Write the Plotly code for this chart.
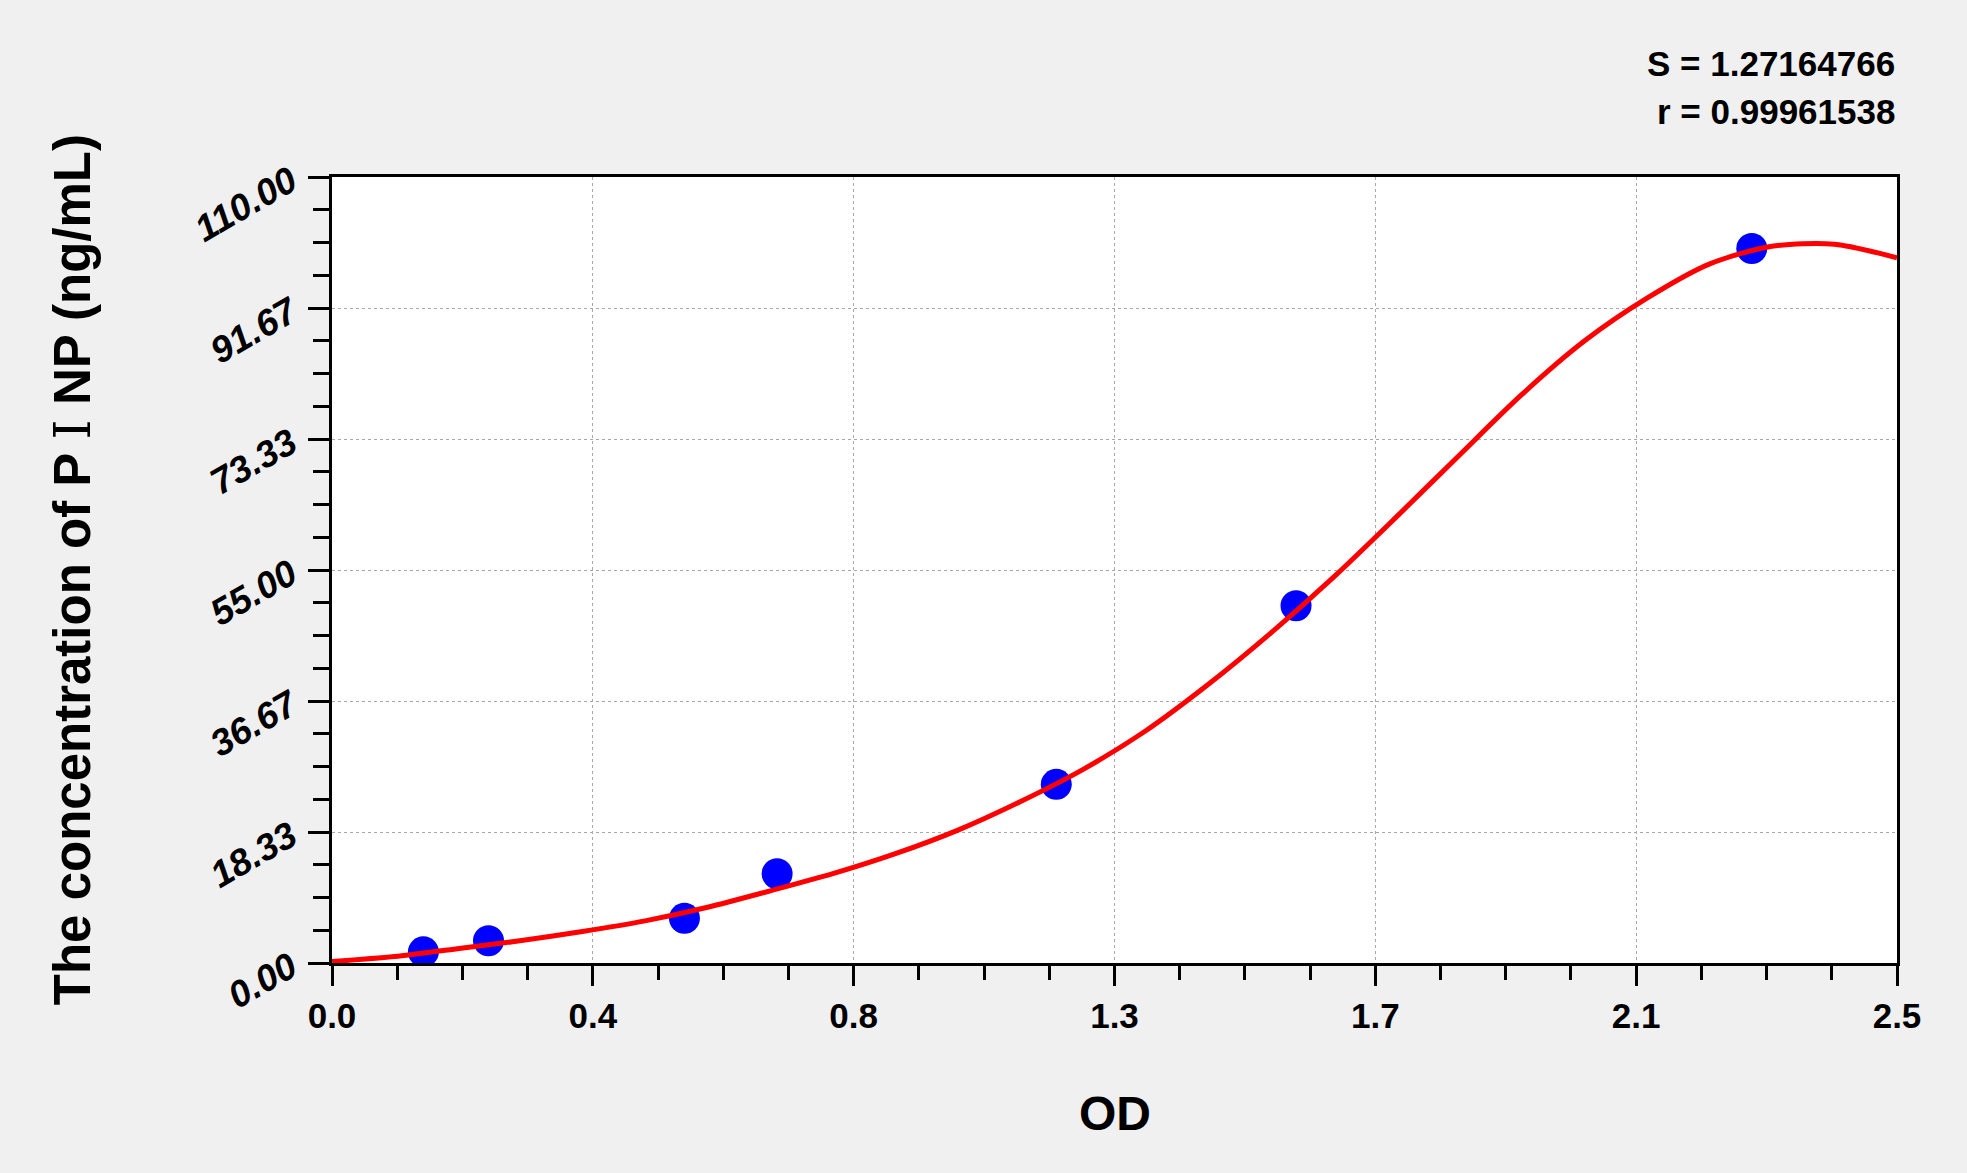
"""standard curve: concentration vs OD"""
import plotly.graph_objects as go

# standards
od = [0.146, 0.250, 0.563, 0.711, 1.157, 1.540, 2.268]
conc = [1.56, 3.12, 6.25, 12.5, 25.0, 50.0, 100.0]

# fitted curve, read every 0.1 OD
curve_od = [0.0, 0.1, 0.2, 0.3, 0.4, 0.5, 0.6, 0.7, 0.8, 0.9, 1.0, 1.1, 1.2,
            1.3, 1.4, 1.5, 1.6, 1.7, 1.8, 1.9, 2.0, 2.1, 2.2, 2.3, 2.4, 2.5]
curve_conc = [0.2, 0.9, 2.0, 3.1, 4.4, 5.9, 7.8, 10.1, 12.5, 15.3, 18.6, 22.6, 27.1,
              32.5, 39.0, 46.2, 54.0, 62.4, 71.0, 79.5, 87.0, 93.0, 97.8, 100.3, 100.6, 98.7]

x_tick_text = ["0.0", "0.4", "0.8", "1.3", "1.7", "2.1", "2.5"]
y_tick_text = ["0.00", "18.33", "36.67", "55.00", "73.33", "91.67", "110.00"]
x_max = 2.5
y_max = 110.0

stats = ["S = 1.27164766", "r = 0.99961538"]

FONT = "Liberation Sans, Arial, sans-serif"

n = len(x_tick_text) - 1
x_tick_vals = [x_max * i / n for i in range(n + 1)]
y_tick_vals = [y_max * i / n for i in range(n + 1)]

fig = go.Figure()
fig.add_trace(
    go.Scatter(
        x=od,
        y=conc,
        mode="markers",
        marker={"color": "#0000ff", "size": 31, "line": {"width": 0}},
        showlegend=False,
    )
)
fig.add_trace(
    go.Scatter(
        x=curve_od,
        y=curve_conc,
        mode="lines",
        line={"color": "#ff0000", "width": 5, "shape": "spline", "smoothing": 0.8},
        showlegend=False,
    )
)

axis_common = {
    "showline": True,
    "linecolor": "black",
    "linewidth": 3,
    "mirror": True,
    "ticks": "outside",
    "tickcolor": "black",
    "tickwidth": 3,
    "showgrid": True,
    "gridcolor": "#a8a8a8",
    "gridwidth": 1,
    "griddash": "dot",
    "zeroline": False,
    "tickmode": "array",
}

fig.update_layout(
    width=1967,
    height=1173,
    paper_bgcolor="#f0f0f0",
    plot_bgcolor="white",
    margin={"l": 332, "r": 70, "t": 177, "b": 210},
    font={"family": FONT, "color": "black"},
    xaxis={
        **axis_common,
        "range": [0, x_max],
        "tickvals": x_tick_vals,
        "ticktext": x_tick_text,
        "ticklen": 20,
        "tickfont": {"size": 35, "weight": "bold"},
        "ticklabelstandoff": 0,
        "minor": {"dtick": x_max / n / 4, "tick0": 0, "ticks": "outside",
                  "ticklen": 14, "tickwidth": 3, "tickcolor": "black", "showgrid": False},
    },
    yaxis={
        **axis_common,
        "range": [0, y_max],
        "tickvals": y_tick_vals,
        "ticktext": y_tick_text,
        "ticklen": 21,
        "tickangle": -30,
        "ticklabelstandoff": 10,
        "tickfont": {"size": 37, "weight": "bold", "style": "italic"},
        "minor": {"dtick": y_max / n / 4, "tick0": 0, "ticks": "outside",
                  "ticklen": 16, "tickwidth": 3, "tickcolor": "black", "showgrid": False},
    },
    annotations=[
        {
            "text": "OD",
            "xref": "paper", "yref": "paper",
            "x": 0.5, "y": -0.191,
            "xanchor": "center", "yanchor": "middle",
            "showarrow": False,
            "font": {"size": 48, "weight": "bold"},
        },
        {
            "text": "The concentration of P <span style=\"font-family:'DejaVu Serif';font-weight:normal\">Ⅰ</span> NP (ng/mL)",
            "xref": "paper", "yref": "paper",
            "x": -0.166, "y": 0.5,
            "xanchor": "center", "yanchor": "middle",
            "textangle": -90,
            "showarrow": False,
            "font": {"size": 51, "weight": "bold"},
        },
        {
            "text": stats[0],
            "xref": "paper", "yref": "paper",
            "x": 1.0, "y": 1.1438,
            "xanchor": "right", "yanchor": "middle",
            "showarrow": False,
            "font": {"size": 35, "weight": "bold"},
        },
        {
            "text": stats[1],
            "xref": "paper", "yref": "paper",
            "x": 1.0, "y": 1.0827,
            "xanchor": "right", "yanchor": "middle",
            "showarrow": False,
            "font": {"size": 35, "weight": "bold"},
        },
    ],
)

# drop the page margin so the figure fills the window
fig.write_html(
    "out.html",
    config={"displayModeBar": False},
    post_script="document.body.style.margin='0';",
)
